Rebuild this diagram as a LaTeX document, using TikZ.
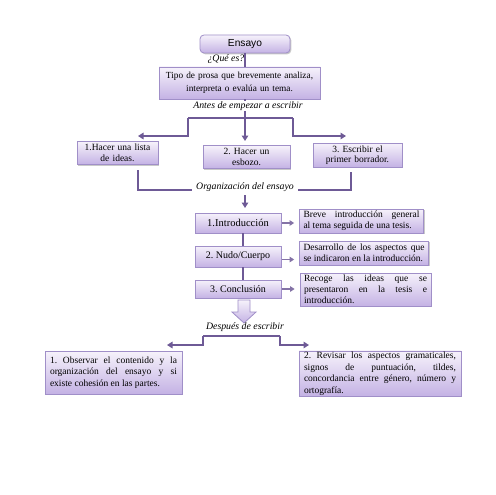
\documentclass[tikz,border=0pt]{standalone}
\usepackage{fontspec}
\setmainfont{Liberation Serif}
\newfontfamily\sansf{Liberation Sans}
\usetikzlibrary{arrows.meta,shadows}
\frenchspacing
\hyphenpenalty=10000
\exhyphenpenalty=10000
\tolerance=10000
\hbadness=10000
\definecolor{lnc}{HTML}{6E5A96}
\definecolor{bdc}{HTML}{A08FC8}
\definecolor{tpc}{HTML}{F6F2FB}
\definecolor{btc}{HTML}{C4B2E4}
\tikzset{
  pbox/.style={draw=bdc, line width=0.8pt, top color=tpc, bottom color=btc,
    drop shadow={shadow xshift=1.3pt, shadow yshift=-1.3pt, opacity=0.35, fill=black!60},
    inner xsep=4pt, inner ysep=1pt, anchor=center},
  conn/.style={draw=lnc, line width=1.5pt},
  arr/.style={conn, -{Triangle[length=5.5pt,width=6.5pt]}},
  sarr/.style={draw=lnc!85, line width=1.3pt, -{Triangle[length=4.5pt,width=5.5pt]}},
  lbl/.style={font=\fontsize{9.8}{11}\selectfont\itshape, inner sep=1pt},
  tA/.style={font=\fontsize{9.5}{10.5}\selectfont, align=center},
  tC/.style={font=\fontsize{10}{11}\selectfont, align=center},
  tJ/.style={font=\fontsize{9.5}{10.8}\selectfont, align=justify},
  tB/.style={font=\fontsize{9.5}{11.5}\selectfont, align=justify},
}
\begin{document}
\begin{tikzpicture}[x=1pt,y=1pt]
\useasboundingbox (0,0) rectangle (495,-495);
\fill[white] (0,0) rectangle (495,-495);

% top
\node[pbox, rounded corners=4pt, minimum width=90, minimum height=18, font=\sansf\fontsize{10.2}{12}\selectfont] (ens) at (245,-44) {Ensayo};
\node[pbox, minimum width=161, minimum height=32, text width=153, align=center, font=\fontsize{9.3}{12.5}\selectfont] (tipo) at (239.5,-83) {Tipo de prosa que brevemente analiza,\\ interpreta o evalúa un tema.};
\node[lbl, anchor=east] (que) at (245.5,-59) {¿Qué es?};
\draw[conn] (ens.south) -- (ens.south |- tipo.north);

% first branching
\coordinate (jl) at (188,-118);
\coordinate (jr) at (293,-118);
\coordinate (tipL) at (138,-136);
\coordinate (tipR) at (346,-136);
\coordinate (tipM) at (245,-141);
\draw[arr] (tipo.south -| ens.south) -- (tipM);
\draw[conn] (jl) -- (jr);
\draw[arr] (jl) |- (tipL);
\draw[arr] (jr) |- (tipR);
\node[lbl, fill=white, inner xsep=2pt] (antes) at (248,-106) {Antes de empezar a escribir};

\node[pbox, minimum width=81, minimum height=23, text width=73, tA] (b1) at (117.5,-153) {1.Hacer una lista\\ de ideas.};
\node[pbox, minimum width=87, minimum height=23, text width=79, tA] (b2) at (246.5,-157) {2. Hacer un\\ esbozo.};
\node[pbox, minimum width=89, minimum height=24, text width=81, tA] (b3) at (357.5,-155) {3. Escribir el\\ primer borrador.};

% gathering
\coordinate (g1) at (138,-170);
\coordinate (g3) at (351,-172);
\coordinate (gm) at (245,-190);
\draw[conn] (g1) |- (gm) -| (g3);
\node[lbl, fill=white, inner xsep=4pt] (org) at (245,-187) {Organización del ensayo};
\coordinate (os) at (245,-195);
\coordinate (ot) at (245,-208);
\draw[arr] (os) -- (ot);

% organization column
\node[pbox, minimum width=86, minimum height=20, tC, font=\fontsize{10.5}{11}\selectfont] (intro) at (238,-223) {1.Introducción};
\node[pbox, minimum width=86, minimum height=21, tC] (nudo) at (238,-256.5) {2. Nudo/Cuerpo};
\node[pbox, minimum width=86, minimum height=18, tC] (concl) at (238,-289) {3. Conclusión};
\draw[conn] ([xshift=5pt]intro.south) -- ([xshift=5pt]nudo.north);
\draw[conn] ([xshift=5pt]nudo.south) -- ([xshift=5pt]concl.north);

\node[pbox, minimum width=124, minimum height=24, text width=116, tJ] (breve) at (361.5,-221) {Breve introducción general\linebreak al tema seguida de una tesis.};
\node[pbox, minimum width=129, minimum height=24, text width=121, tJ] (desa) at (364,-253) {Desarrollo de los aspectos que\linebreak se indicaron en la introducción.};
\node[pbox, minimum width=131, minimum height=33, text width=123, tJ] (reco) at (365.5,-289.5) {Recoge las ideas que se\linebreak presentaron en la tesis e\linebreak introducción.};

\draw[sarr, shorten <=1pt, shorten >=5pt] (intro.east) -- (intro.east -| breve.west);
\draw[sarr, shorten <=1pt, shorten >=5pt] ([yshift=-3pt]nudo.east) -- ([yshift=-3pt]nudo.east -| desa.west);
\draw[sarr, shorten <=1pt, shorten >=5pt] (concl.east) -- (concl.east -| reco.west);

% block arrow
\draw[draw=bdc, line width=0.8pt, top color=tpc, bottom color=btc]
  (238,-300) -- (250,-300) -- (250,-312) -- (256,-312) -- (244,-323) -- (232,-312) -- (238,-312) -- cycle;

% after writing
\node[lbl] (desp) at (245,-327) {Después de escribir};
\coordinate (d1) at (203,-336);
\coordinate (d2) at (280,-336);
\coordinate (tipL2) at (167,-345);
\coordinate (tipR2) at (309,-345);
\draw[conn] (d1) -- (d2);
\draw[arr] (d1) |- (tipL2);
\draw[arr] (d2) |- (tipR2);

\node[pbox, minimum width=137, minimum height=43, text width=127, inner xsep=5pt, tB] (bl) at (113.5,-372.5) {1. Observar el contenido y la\linebreak organización del ensayo y si\linebreak existe cohesión en las partes.};
\node[pbox, minimum width=162, minimum height=45, text width=152, inner xsep=5pt, tB] (br) at (380,-373.5) {2. Revisar los aspectos gramaticales,\linebreak signos de puntuación, tildes,\linebreak concordancia entre género, número y\linebreak ortografía.};
\end{tikzpicture}
\end{document}
